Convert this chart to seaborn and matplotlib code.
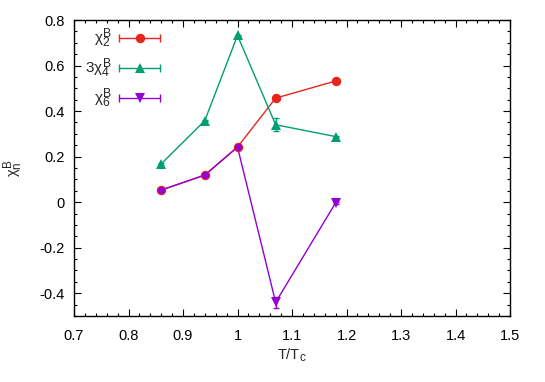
import numpy as np
import pandas as pd
import matplotlib
matplotlib.use("Agg")
import matplotlib.pyplot as plt
import matplotlib._mathtext as mathtext_internal
import seaborn as sns
from matplotlib.ticker import MultipleLocator, FuncFormatter

# gnuplot draws sub/superscripts at 0.8 of the base size
mathtext_internal.SHRINK_FACTOR = 0.8

# ---- data ----
t_over_tc = [0.86, 0.94, 1.00, 1.07, 1.18]
chi2 = [0.053, 0.119, 0.242, 0.457, 0.532]
chi2_err = [0.003, 0.003, 0.003, 0.004, 0.004]
chi4x3 = [0.168, 0.358, 0.732, 0.340, 0.288]
chi4x3_err = [0.003, 0.003, 0.004, 0.028, 0.004]
chi6 = [0.053, 0.119, 0.242, -0.440, -0.003]
chi6_err = [0.003, 0.003, 0.003, 0.025, 0.004]

labels = ["$χ_2^B$", "$3χ_4^B$", "$χ_6^B$"]
colors = ["#e8251c", "#009e73", "#9400d3"]
markers = ["o", "^", "v"]

sns.set_style("ticks")
plt.rcParams["font.family"] = ["Liberation Sans", "DejaVu Sans"]
plt.rcParams["mathtext.fontset"] = "custom"
plt.rcParams["mathtext.rm"] = "Liberation Sans"
plt.rcParams["mathtext.it"] = "Liberation Sans"
plt.rcParams["mathtext.sf"] = "Liberation Sans"

df = pd.DataFrame({
    "T": t_over_tc * 3,
    "chi": chi2 + chi4x3 + chi6,
    "err": chi2_err + chi4x3_err + chi6_err,
    "series": sum([[l] * len(t_over_tc) for l in labels], []),
})

fig = plt.figure(figsize=(5.45, 3.82), dpi=100)
ax = fig.add_axes([74 / 545, 1 - 316 / 382, 436 / 545, 296 / 382])

# where chi6 coincides with chi2 the reference shows a purple dot over the red one
same = np.isclose(chi6, chi2)

# lines first, then error bars, then markers on top
sns.lineplot(data=df, x="T", y="chi", hue="series",
             palette=dict(zip(labels, colors)), linewidth=1.0,
             legend=False, ax=ax, zorder=2)
for lab, col, mk in zip(labels, colors, markers):
    sub = df[df["series"] == lab]
    ax.errorbar(sub["T"], sub["chi"], yerr=sub["err"], fmt="none",
                ecolor=col, elinewidth=1.0, capsize=2.3, capthick=1.0, zorder=3)
    if lab == labels[2]:
        sub = sub[~same]
    ax.plot(sub["T"], sub["chi"], ls="none", marker=mk, color=col,
            markersize=6.8, markeredgewidth=0, zorder=4)

ax.plot(np.array(t_over_tc)[same], np.array(chi6)[same], ls="none", marker="o",
        color=colors[2], markersize=5.2, markeredgewidth=0, zorder=5)

ax.set_xlim(0.7, 1.5)
ax.set_ylim(-0.5, 0.8)
ax.xaxis.set_major_locator(MultipleLocator(0.1))
ax.xaxis.set_minor_locator(MultipleLocator(0.02))
ax.yaxis.set_major_locator(MultipleLocator(0.2))
ax.yaxis.set_minor_locator(MultipleLocator(0.05))
fmt = FuncFormatter(lambda v, p: "%g" % round(v, 3))
ax.xaxis.set_major_formatter(fmt)
ax.yaxis.set_major_formatter(fmt)
ax.tick_params(which="both", direction="in", top=True, right=True,
               labelsize=10.5, colors="black", width=0.8)
ax.tick_params(which="major", length=5)
ax.tick_params(which="minor", length=2.5)
ax.tick_params(axis="x", pad=9)
ax.tick_params(axis="y", pad=7)
for s in ax.spines.values():
    s.set_linewidth(1.0)
    s.set_color("black")

ax.set_xlabel("T/T$_c$", fontsize=10.5, labelpad=3)
ax.set_ylabel("$χ_n^B$", fontsize=10.5, labelpad=10)

# gnuplot-style key, top left
for i, (lab, col, mk) in enumerate(zip(labels, colors, markers)):
    yk = 0.939 - i * 0.1013
    ax.text(0.087, yk, lab, transform=ax.transAxes, ha="right", va="center",
            fontsize=11)
    ax.plot([0.103, 0.197], [yk, yk], transform=ax.transAxes, color=col, lw=1.0,
            marker="|", markevery=[0, 1], markersize=6, markeredgewidth=1.0,
            clip_on=False)
    ax.plot([0.151], [yk], transform=ax.transAxes, color=col, marker=mk,
            markersize=6.8, markeredgewidth=0, clip_on=False)

fig.savefig("out.png", dpi=100)
